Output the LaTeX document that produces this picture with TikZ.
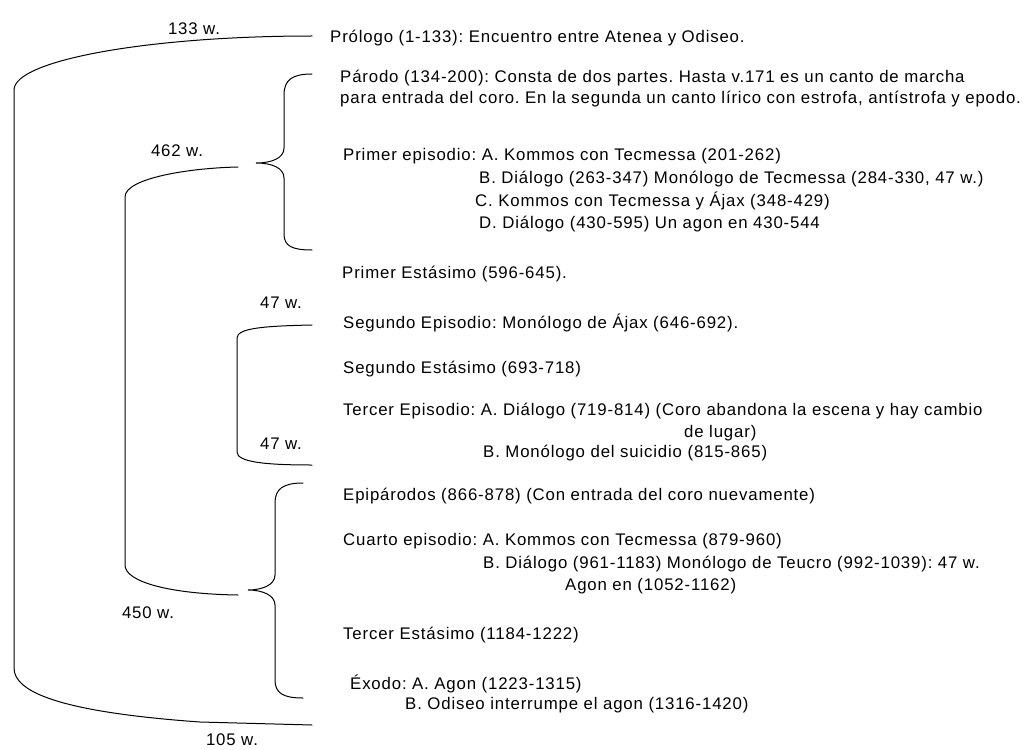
\documentclass[tikz,border=0pt]{standalone}
\usepackage{fontspec}
\setmainfont{Liberation Sans}[LetterSpace=5]
\begin{document}
\frenchspacing
\begin{tikzpicture}[x=1pt,y=-1pt,
  txt/.style={anchor=west,inner sep=0pt,font=\fontsize{16.8}{21.5}\selectfont,align=left},
  wlab/.style={inner sep=0pt,font=\fontsize{16.8}{21.5}\selectfont},
  lin/.style={line width=1pt,line cap=round}]
\useasboundingbox (0,0) rectangle (1027,749);
% partes de la obra
\node[txt] (prologo) at (330,38) {Prólogo (1-133): Encuentro entre Atenea y Odiseo.};
\node[txt] (parodo) at (340,88.5) {Párodo (134-200): Consta de dos partes. Hasta v.171 es un canto de marcha\\para entrada del coro. En la segunda un canto lírico con estrofa, antístrofa y epodo.};
\node[txt] (epA) at (343,156) {Primer episodio: A. Kommos con Tecmessa (201-262)};
\node[txt] (epB) at (479,179) {B. Diálogo (263-347) Monólogo de Tecmessa (284-330, 47 w.)};
\node[txt] (epC) at (475,201) {C. Kommos con Tecmessa y Ájax (348-429)};
\node[txt] (epD) at (479,224) {D. Diálogo (430-595) Un agon en 430-544};
\node[txt] (estA) at (342,274) {Primer Estásimo (596-645).};
\node[txt] (segep) at (343,323) {Segundo Episodio: Monólogo de Ájax (646-692).};
\node[txt] (estB) at (343,369) {Segundo Estásimo (693-718)};
\node[txt] (terA) at (343,411) {Tercer Episodio: A. Diálogo (719-814) (Coro abandona la escena y hay cambio};
\node[txt] (terL) at (684,433) {de lugar)};
\node[txt] (terB) at (483,453) {B. Monólogo del suicidio (815-865)};
\node[txt] (epip) at (343,496) {Epipárodos (866-878) (Con entrada del coro nuevamente)};
\node[txt] (cuaA) at (343,541) {Cuarto episodio: A. Kommos con Tecmessa (879-960)};
\node[txt] (cuaB) at (483,564) {B. Diálogo (961-1183) Monólogo de Teucro (992-1039): 47 w.};
\node[txt] (cuaC) at (565,586) {Agon en (1052-1162)};
\node[txt] (estC) at (343,635) {Tercer Estásimo (1184-1222)};
\node[txt] (exoA) at (350,684) {Éxodo: A. Agon (1223-1315)};
\node[txt] (exoB) at (405,705) {B. Odiseo interrumpe el agon (1316-1420)};
% cantidades de versos
\node[wlab] (w133) at (194,29) {133 w.};
\node[wlab] (w462) at (177,151) {462 w.};
\node[wlab] (w47a) at (281,303) {47 w.};
\node[wlab] (w47b) at (281,444) {47 w.};
\node[wlab] (w450) at (148,613) {450 w.};
\node[wlab] (w105) at (232,740) {105 w.};
% extremos de las lineas
\coordinate (oTop) at (312,36);
\coordinate (oBot) at (312,725);
\coordinate (iTop) at (238,167);
\coordinate (iBot) at (238,595);
\coordinate (sTop) at (312,325);
\coordinate (sBot) at (312,465);
\coordinate (bAtip) at (256,163);
\coordinate (bBtip) at (248,590);
% arco exterior
\draw[lin] (oTop) .. controls (150,36) and (14,60) .. (14,90) -- (14,668)
  .. controls (14,692) and (60,712) .. (200,722) -- (oBot);
% arco interior
\draw[lin] (iTop) .. controls (190,168) and (125,178) .. (125,197) -- (125,565)
  .. controls (125,582) and (170,594) .. (iBot);
% corchete pequeno
\draw[lin] (sTop) .. controls (265,326) and (237,328) .. (237,338) -- (237,452)
  .. controls (237,462) and (265,465) .. (sBot);
% llaves
\draw[lin] (312,74) .. controls (292,74) and (284,80) .. (284,95) -- (284,148)
  .. controls (284,158) and (272,163) .. (bAtip)
  .. controls (272,163) and (284,168) .. (284,178) -- (284,234)
  .. controls (284,246) and (292,250) .. (312,250);
\draw[lin] (303,483) .. controls (283,483) and (275,489) .. (275,503) -- (275,575)
  .. controls (275,585) and (262,590) .. (bBtip)
  .. controls (262,590) and (275,595) .. (275,605) -- (275,680)
  .. controls (275,693) and (283,698) .. (303,698);
\end{tikzpicture}
\end{document}
